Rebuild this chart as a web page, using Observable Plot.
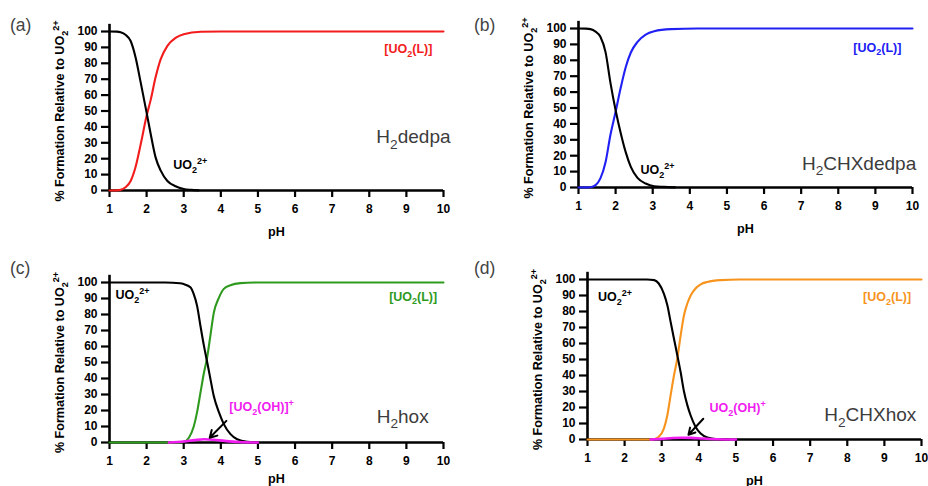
<!DOCTYPE html>
<html><head><meta charset="utf-8">
<script src="https://cdn.jsdelivr.net/npm/d3@7"></script>
<script src="https://cdn.jsdelivr.net/npm/@observablehq/plot@0.6"></script>
<style>
body{margin:0;background:#fff;}
#wrap{position:relative;width:928px;height:486px;overflow:hidden;background:#fff;font-family:"Liberation Sans",Arial,Helvetica,sans-serif;}
.panel{position:absolute;}
.tag{position:absolute;font-size:17.5px;color:#444;line-height:1;}
g[aria-label="y-axis label"] text{font-size:12.6px;}
g[aria-label="x-axis label"] text{font-size:12.6px;}
</style></head><body><div id="wrap"></div>
<script>
// ---- axes ----
const xTicks = [1,2,3,4,5,6,7,8,9,10];
const yTicks = [0,10,20,30,40,50,60,70,80,90,100];
const xLabel = "pH";
const yLabel = "% Formation Relative to UO₂²⁺";
const panelTags = ["(a)","(b)","(c)","(d)"];

// ---- panel (a) H2dedpa ----
const phFreeA = [1.0,1.2,1.3,1.43,1.57,1.70,1.84,2.0,2.11,2.24,2.38,2.56,2.78,3.0,3.2,3.4];
const freeA   = [100,99.9,99.5,98,94,84,68,49,35.5,21,12.5,6,2.7,1,0.4,0.1];
const phCplxA = [1.0,1.2,1.3,1.43,1.57,1.70,1.84,2.0,2.11,2.24,2.38,2.56,2.78,3.0,3.46,4.0,10];
const cplxA   = [0,0.1,0.4,2,6,14.6,29,47,57,71,82.6,91,96,98.3,99.8,100,100];

// ---- panel (b) H2CHXdedpa ----
const phFreeB = [1.0,1.2,1.32,1.46,1.59,1.73,1.86,2.0,2.14,2.27,2.41,2.59,2.81,3.04,3.3,3.6];
const freeB   = [100,99.9,99.6,98,94.8,85,66,48.6,34,22.4,13,6,2.5,0.8,0.4,0.1];
const phCplxB = [1.0,1.2,1.32,1.46,1.59,1.73,1.86,2.0,2.14,2.27,2.41,2.59,2.81,3.04,3.49,4.2,10];
const cplxB   = [0,0.05,0.2,1.5,5.7,16,33,47.6,63,75.5,84.9,91.6,96.2,98.3,99.6,100,100];

// ---- panel (c) H2hox ----
const phFreeC = [1.0,2.5,2.9,3.0,3.18,3.27,3.36,3.45,3.54,3.63,3.72,3.81,3.95,4.08,4.26,4.44,4.71,5.0];
const freeC   = [100,100,99.5,99,97,92.7,85.4,73,61,50.5,39.6,29,18.8,11.5,5.2,2,0.4,0];
const phCplxC = [1.0,2.9,3.0,3.14,3.27,3.36,3.45,3.54,3.63,3.72,3.81,3.95,4.08,4.26,4.53,4.9,10];
const cplxC   = [0,0,0.4,3,10,19,31,43,53,67,81,90.6,96,98.3,99.6,100,100];
const phHydC  = [2.6,3.0,3.3,3.55,3.8,4.1,4.5,5.0];
const hydC    = [0,0.6,1.5,2.0,1.7,1.0,0.3,0];

// ---- panel (d) H2CHXhox ----
const phFreeD = [1.0,2.6,2.8,2.92,3.06,3.15,3.24,3.33,3.42,3.51,3.60,3.69,3.78,3.91,4.05,4.23,4.5,4.8];
const freeD   = [100,100,99.6,97.5,91,84,73.5,63,52.7,42,30,21.5,15,8,3.75,1.25,0.2,0];
const phCplxD = [1.0,2.6,2.78,2.92,3.06,3.15,3.24,3.33,3.42,3.51,3.60,3.69,3.78,3.91,4.05,4.23,4.59,5.1,10];
const cplxD   = [0,0,0.2,1.7,7,15,27.7,40,50.6,65,77.7,85,90,94.4,97,98.5,99.6,100,100];
const phHydD  = [2.7,3.0,3.3,3.55,3.8,4.1,4.5,5.0];
const hydD    = [0,0.4,0.9,1.1,1.0,0.6,0.2,0];

// ---- annotations (data coordinates) ----
const labelsA = [
  {text:"[UO₂(L)]", x:9.7, y:89, anchor:"end", color:"#f21c1c", kind:"species"},
  {text:"UO₂²⁺", x:2.72, y:16, anchor:"start", color:"#000", kind:"species"},
  {text:"H₂dedpa", x:10.19, y:33.5, anchor:"end", color:"#3c3c3c", kind:"ligand"}
];
const labelsB = [
  {text:"[UO₂(L)]", x:9.7, y:88, anchor:"end", color:"#2020f5", kind:"species"},
  {text:"UO₂²⁺", x:2.67, y:10.7, anchor:"start", color:"#000", kind:"species"},
  {text:"H₂CHXdedpa", x:10.1, y:14.9, anchor:"end", color:"#3c3c3c", kind:"ligand"}
];
const labelsC = [
  {text:"UO₂²⁺", x:1.16, y:92, anchor:"start", color:"#000", kind:"species"},
  {text:"[UO₂(L)]", x:9.83, y:91, anchor:"end", color:"#2e9a1e", kind:"species"},
  {text:"H₂hox", x:9.6, y:16, anchor:"end", color:"#3c3c3c", kind:"ligand"},
  {text:"[UO₂(OH)]⁺", x:4.23, y:22, anchor:"start", color:"#f01cf0", kind:"species"}
];
const labelsD = [
  {text:"UO₂²⁺", x:1.28, y:89, anchor:"start", color:"#000", kind:"species"},
  {text:"[UO₂(L)]", x:9.72, y:89, anchor:"end", color:"#f7941d", kind:"species"},
  {text:"H₂CHXhox", x:9.86, y:15.2, anchor:"end", color:"#3c3c3c", kind:"ligand"},
  {text:"UO₂(OH)⁺", x:4.29, y:19.4, anchor:"start", color:"#f01cf0", kind:"species"}
];
const arrowC = [{x1:4.15, y1:13.5, x2:3.7, y2:3}];
const arrowD = [{x1:4.12, y1:13, x2:3.72, y2:3}];

const toRows = (xs, ys) => xs.map((x, i) => ({pH: x, v: ys[i]}));

function makePanel(o) {
  const line = (xs, ys, stroke, sw) => Plot.line(toRows(xs, ys), {x: "pH", y: "v", stroke, strokeWidth: sw, curve: "monotone-x"});
  const marks = [
    Plot.ruleY([0], {stroke: "#000", strokeWidth: 2.6}),
    Plot.ruleX([1], {y1: 0, y2: 104.5, stroke: "#000", strokeWidth: 2.6}),
    Plot.axisX({ticks: xTicks, tickSize: 7, tickPadding: 7, strokeWidth: 2.2, tickFormat: d => String(d),
      label: xLabel, labelAnchor: "center", labelArrow: "none", labelOffset: o.xLabelOffset}),
    Plot.axisY({ticks: yTicks, tickSize: 8, tickPadding: 4, strokeWidth: 2.2, tickFormat: d => String(d),
      label: yLabel, labelAnchor: "center", labelArrow: "none", labelOffset: o.yLabelOffset}),
    line(o.phCplx, o.cplx, o.color, 2.1),
    line(o.phFree, o.free, "#000", 2.1)
  ];
  if (o.phHyd) marks.push(line(o.phHyd, o.hyd, "#f01cf0", 2.6));
  for (const l of o.labels) {
    marks.push(Plot.text([l], {
      x: "x", y: "y", text: "text", textAnchor: l.anchor, fill: l.color,
      fontSize: l.kind === "ligand" ? 19 : 12.5,
      fontWeight: l.kind === "ligand" ? "normal" : "bold"
    }));
  }
  if (o.arrow) marks.push(Plot.arrow(o.arrow, {x1: "x1", y1: "y1", x2: "x2", y2: "y2", stroke: "#000", strokeWidth: 2, headLength: 9}));
  return Plot.plot({
    width: 464, height: 243,
    marginLeft: o.ml, marginRight: o.mr, marginTop: o.mt, marginBottom: o.mb,
    x: {domain: [1, 10]},
    y: {domain: [0, 100]},
    style: {fontFamily: '"Liberation Sans", Arial, Helvetica, sans-serif', fontSize: "12px", fontWeight: "bold", color: "#000", background: "transparent", overflow: "visible"},
    marks
  });
}

// turn unicode sub/superscripts into real tspans (text stays text)
const SUB = {"₂": "2"}, SUP = {"²": "2", "⁺": "+"};
function richify(svg) {
  svg.querySelectorAll("text").forEach(t => {
    const s = t.textContent;
    if (!/[₂²⁺]/.test(s)) return;
    const segs = [];
    for (const ch of s) {
      const type = SUB[ch] ? "sub" : SUP[ch] ? "sup" : "n";
      const c = SUB[ch] || SUP[ch] || ch;
      if (segs.length && segs[segs.length - 1].type === type) segs[segs.length - 1].s += c;
      else segs.push({type, s: c});
    }
    while (t.firstChild) t.removeChild(t.firstChild);
    let cur = 0;
    for (const g of segs) {
      const k = g.type === "n" ? 1 : 0.72;
      const off = g.type === "sub" ? 0.28 : g.type === "sup" ? -0.42 : 0;
      const ts = document.createElementNS("http://www.w3.org/2000/svg", "tspan");
      if (k !== 1) ts.setAttribute("font-size", (k * 100) + "%");
      if (off !== cur) ts.setAttribute("dy", ((off - cur) / k).toFixed(3) + "em");
      ts.textContent = g.s;
      t.appendChild(ts);
      cur = off;
    }
  });
}

const panels = [
  {left: 0, top: 0, ml: 109, mr: 21, mt: 31, mb: 53, xLabelOffset: 45, yLabelOffset: 54,
   phFree: phFreeA, free: freeA, phCplx: phCplxA, cplx: cplxA, color: "#f21c1c", labels: labelsA},
  {left: 464, top: 0, ml: 114, mr: 16, mt: 28, mb: 56, xLabelOffset: 45, yLabelOffset: 54,
   phFree: phFreeB, free: freeB, phCplx: phCplxB, cplx: cplxB, color: "#2020f5", labels: labelsB},
  {left: 0, top: 243, ml: 109, mr: 21, mt: 39, mb: 44, xLabelOffset: 40, yLabelOffset: 54,
   phFree: phFreeC, free: freeC, phCplx: phCplxC, cplx: cplxC, phHyd: phHydC, hyd: hydC, color: "#2e9a1e", labels: labelsC, arrow: arrowC},
  {left: 464, top: 243, ml: 123, mr: 7, mt: 36, mb: 47, xLabelOffset: 45, yLabelOffset: 54,
   phFree: phFreeD, free: freeD, phCplx: phCplxD, cplx: cplxD, phHyd: phHydD, hyd: hydD, color: "#f7941d", labels: labelsD, arrow: arrowD}
];

const wrap = document.getElementById("wrap");
panels.forEach((p, i) => {
  const div = document.createElement("div");
  div.className = "panel";
  div.style.left = p.left + "px";
  div.style.top = p.top + "px";
  const svg = makePanel(p);
  richify(svg);
  div.appendChild(svg);
  wrap.appendChild(div);
  const tag = document.createElement("div");
  tag.className = "tag";
  tag.textContent = panelTags[i];
  tag.style.left = (p.left + 10) + "px";
  tag.style.top = (p.top + 17) + "px";
  wrap.appendChild(tag);
});
</script>
</body></html>
